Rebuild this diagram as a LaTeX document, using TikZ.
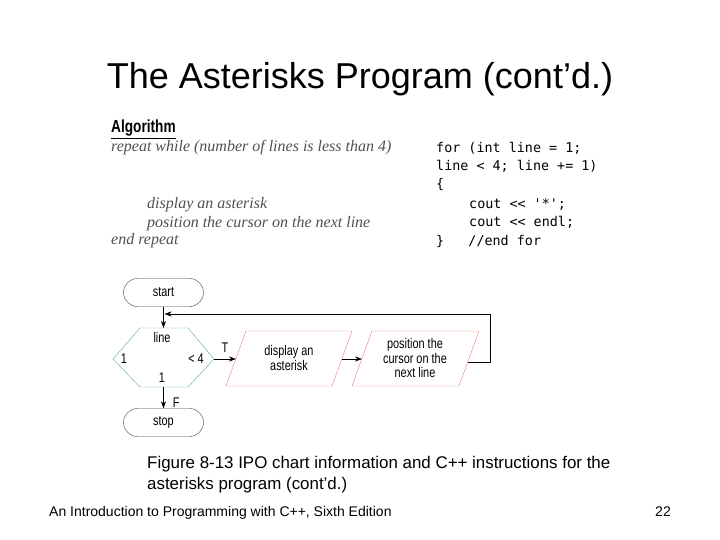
\documentclass[tikz,border=0pt]{standalone}
\usepackage{fontspec}
\setmainfont{Liberation Sans}
\newfontfamily\narrowfont[FakeStretch=0.78]{Liberation Sans}
\newfontfamily\handfont{Liberation Serif}[ItalicFont={Liberation Serif Italic}]
\newfontfamily\codefont{DejaVu Sans Mono}
\usetikzlibrary{arrows.meta}
\definecolor{slatecol}{HTML}{2E4B52}
\definecolor{tealcol}{HTML}{5BA9A8}
\definecolor{salmoncol}{HTML}{E0857A}
\definecolor{handcol}{HTML}{505050}
\tikzset{
  termbox/.style={draw=slatecol, rounded corners=14pt, minimum width=80pt, minimum height=28pt, font=\narrowfont\fontsize{14}{14.5}\selectfont},
  flowtxt/.style={font=\narrowfont\fontsize{14}{14.5}\selectfont, inner sep=0pt},
  handtxt/.style={anchor=base west, inner sep=0pt, text=handcol, font=\handfont\itshape\fontsize{16}{18}\selectfont},
  codetxt/.style={anchor=base west, inner sep=0pt, font=\codefont\fontsize{13.4}{16}\selectfont},
  capline/.style={anchor=base west, inner sep=0pt, font=\fontsize{16.9}{20}\selectfont},
  flowarrow/.style={-{Stealth[length=7pt,width=5pt]}, semithick},
}
\begin{document}
\begin{tikzpicture}[x=1pt,y=-1pt]
    \useasboundingbox (0,0) rectangle (720,540);
    % title
    \node[anchor=base, inner sep=0pt, font=\fontsize{36}{40}\selectfont] (title) at (360,89) {The Asterisks Program (cont’d.)};
    % algorithm
    \node[anchor=base west, inner sep=0pt, font=\narrowfont\bfseries\fontsize{17.5}{20}\selectfont] (alghead) at (111,133) {\underline{Algorithm}};
    \node[handtxt] (alg1) at (111,152) {repeat while (number of lines is less than 4)};
    \node[handtxt] (alg2) at (147,209) {display an asterisk};
    \node[handtxt] (alg3) at (147,227) {position the cursor on the next line};
    \node[handtxt] (alg4) at (111,244) {end repeat};
    % c++ code
    \node[codetxt] (code1) at (436,153) {for (int line = 1;};
    \node[codetxt] (code2) at (436,171) {line < 4; line += 1)};
    \node[codetxt] (code3) at (436,189) {\{};
    \node[codetxt] (code4) at (469,208) {cout << '*';};
    \node[codetxt] (code5) at (469,226) {cout << endl;};
    \node[codetxt] (code6) at (436,245) {\}\ \ \ //end for};
    % flowchart
    \node[termbox] (start) at (163.5,292.5) {start};
    \node[termbox] (stop) at (163.5,422.5) {stop};
    \coordinate (hexTL) at (140,328); \coordinate (hexTR) at (188,328);
    \coordinate (hexR) at (214,359); \coordinate (hexBR) at (188,387);
    \coordinate (hexBL) at (140,387); \coordinate (hexL) at (113,359);
    \coordinate (hexT) at (163.5,328); \coordinate (hexB) at (163.5,387);
    \draw[tealcol] (hexTL)--(hexTR)--(hexR)--(hexBR)--(hexBL)--(hexL)--cycle;
    \node[flowtxt] (hexname) at (162,337) {line};
    \node[flowtxt] (hexinit) at (124,359) {1};
    \node[flowtxt] (hextest) at (196,359) {< 4};
    \node[flowtxt] (hexstep) at (162,378) {1};
    \coordinate (dispTL) at (246,331); \coordinate (dispTR) at (352,331);
    \coordinate (dispBR) at (332,386); \coordinate (dispBL) at (226,386);
    \coordinate (dispL) at (236,359); \coordinate (dispR) at (342,359);
    \draw[salmoncol] (dispTL)--(dispTR)--(dispBR)--(dispBL)--cycle;
    \node[flowtxt, align=center] (disptxt) at (289,358) {display an\\asterisk};
    \coordinate (posTL) at (372,331); \coordinate (posTR) at (479,331);
    \coordinate (posBR) at (459,386); \coordinate (posBL) at (352,386);
    \coordinate (posL) at (362,359); \coordinate (posR) at (468,362);
    \draw[salmoncol] (posTL)--(posTR)--(posBR)--(posBL)--cycle;
    \node[flowtxt, align=center] (postxt) at (415,358) {position the\\cursor on the\\next line};
    \coordinate (loopin) at (164.5,314);
    \draw[flowarrow] (start) -- (hexT);
    \draw[flowarrow] (hexR) -- node[above, flowtxt, yshift=6pt] (ttrue) {T} (dispL);
    \draw[flowarrow] (dispR) -- (posL);
    \draw[flowarrow] (posR) -- (490,362) -- (490,314) -- (loopin);
    \draw[flowarrow] (hexB) -- node[right, flowtxt, xshift=9pt, yshift=-5pt] (ffalse) {F} (stop);
    % caption and footer
    \node[capline] (caption1) at (147,468) {Figure 8-13 IPO chart information and C++ instructions for the};
    \node[capline] (caption2) at (147,489) {asterisks program (cont’d.)};
    \node[anchor=base west, inner sep=0pt, font=\fontsize{14}{16}\selectfont] (footer) at (49,516) {An Introduction to Programming with C++, Sixth Edition};
    \node[anchor=base east, inner sep=0pt, font=\fontsize{14}{16}\selectfont] (pagenum) at (671,516) {22};
\end{tikzpicture}
\end{document}
